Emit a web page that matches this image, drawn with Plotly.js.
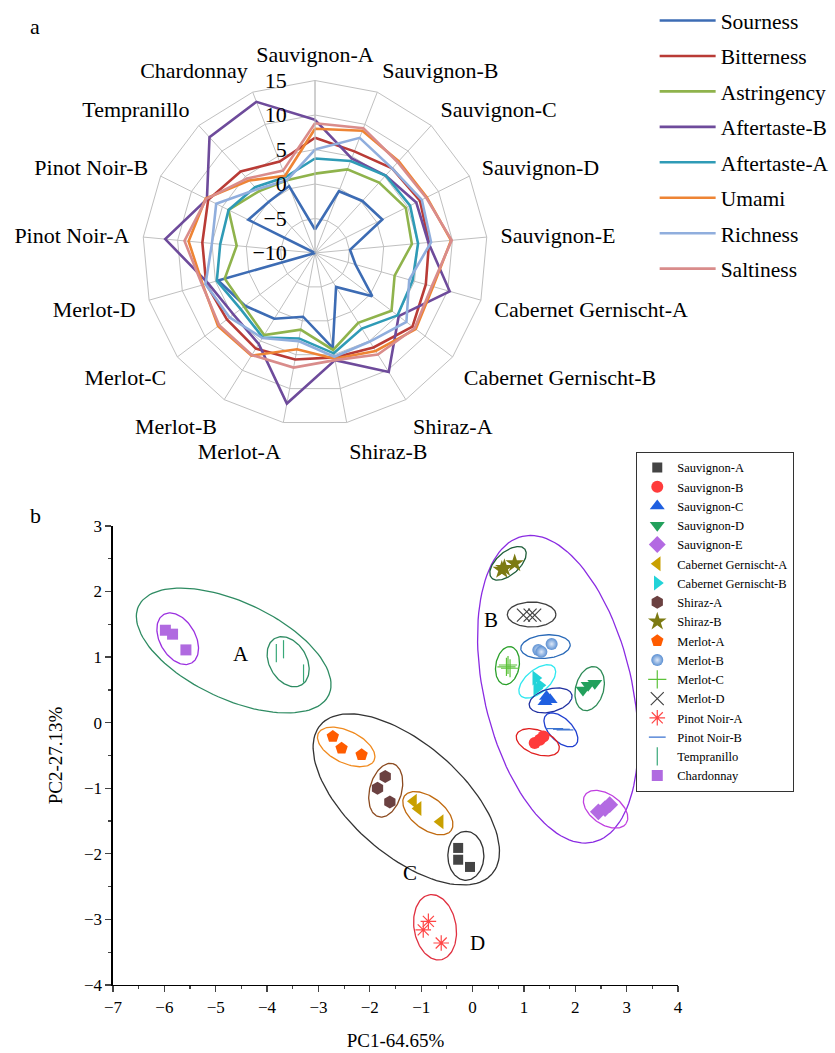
<!DOCTYPE html>
<html><head><meta charset="utf-8">
<script src="https://cdn.plot.ly/plotly-3.0.1.min.js"></script>
<style>html,body{margin:0;padding:0;background:#fff}#chart{width:835px;height:1053px}</style>
</head><body><div id="chart"></div>
<script>
// ---------- Radar data (panel a) ----------
const categories = ['Sauvignon-A','Sauvignon-B','Sauvignon-C','Sauvignon-D','Sauvignon-E','Cabernet Gernischt-A','Cabernet Gernischt-B','Shiraz-A','Shiraz-B','Merlot-A','Merlot-B','Merlot-C','Merlot-D','Pinot Noir-A','Pinot Noir-B','Tempranillo','Chardonnay'];
const sourness    = [-6.6,-0.4,0.2,0.9,-4.9,-3.9,0.4,-4.2,4.0,-0.6,1.2,2.7,4.6,-10,0.8,0.0,0.4];
const bitterness  = [6.7,5.8,6.6,7.0,6.6,6.7,7.7,6.1,5.4,5.7,6.3,6.0,6.4,6.4,7.3,6.0,4.2];
const astringency = [1.5,3.0,3.8,4.7,4.1,2.0,3.9,1.9,4.3,1.3,4.0,2.9,3.6,1.4,4.0,2.1,1.3];
const aftertasteB = [9.3,4.7,5.2,6.4,6.5,10.3,5.2,10.3,5.8,12.2,5.5,4.8,6.1,11.8,7.5,12.7,13.5];
const aftertasteA = [3.7,4.3,5.2,5.4,5.0,4.7,5.0,2.9,4.8,2.6,4.4,3.5,4.8,3.8,4.0,2.9,1.8];
const umami       = [8.0,9.0,8.0,8.1,9.8,7.8,8.3,6.7,5.6,4.2,7.5,7.6,6.9,8.4,7.7,4.2,2.0];
const richness    = [5.0,7.9,6.6,7.3,6.9,4.2,6.6,5.1,5.3,3.0,4.5,5.5,6.5,5.0,6.0,2.5,1.3];
const saltiness   = [8.8,9.4,7.8,8.0,9.9,7.6,8.1,7.3,5.8,6.9,7.4,7.4,7.0,9.0,7.6,4.6,2.8];
const tasteNames  = ['Sourness','Bitterness','Astringency','Aftertaste-B','Aftertaste-A','Umami','Richness','Saltiness'];
const tasteSeries = [sourness,bitterness,astringency,aftertasteB,aftertasteA,umami,richness,saltiness];
const tasteColors = ['#3d6cb4','#b93b36','#8fb34c','#6e4b9b','#2f9bb6','#ee8434','#90aedd','#d98c8b'];

// ---------- PCA data (panel b) ----------
const wines = ['Sauvignon-A','Sauvignon-B','Sauvignon-C','Sauvignon-D','Sauvignon-E','Cabernet Gernischt-A','Cabernet Gernischt-B','Shiraz-A','Shiraz-B','Merlot-A','Merlot-B','Merlot-C','Merlot-D','Pinot Noir-A','Pinot Noir-B','Tempranillo','Chardonnay'];
const pc1 = [
  [-0.28,-0.28,-0.05],[1.21,1.31,1.38],[1.44,1.51,1.41],[2.15,2.25,2.38],[2.45,2.58,2.67],
  [-1.15,-1.06,-0.63],[1.23,1.31,1.25],[-1.70,-1.85,-1.61],[0.57,0.62,0.82],[-2.72,-2.55,-2.16],
  [1.28,1.34,1.54],[0.66,0.69,0.73],[0.99,1.12,1.21],[-0.86,-0.96,-0.61],[1.60,1.73,1.80],
  [-3.82,-3.68,-3.29],[-5.98,-5.84,-5.58]];
const pc2 = [
  [-1.91,-2.09,-2.20],[-0.31,-0.26,-0.21],[0.40,0.35,0.32],[0.50,0.57,0.60],[-1.36,-1.31,-1.25],
  [-1.20,-1.31,-1.51],[0.68,0.57,0.52],[-0.82,-1.00,-1.21],[2.33,2.36,2.43],[-0.21,-0.39,-0.49],
  [1.11,1.08,1.20],[0.85,0.88,0.83],[1.64,1.64,1.64],[-3.03,-3.16,-3.36],[-0.09,-0.10,-0.11],
  [1.06,1.12,0.75],[1.41,1.35,1.11]];
const wineSymbols = ['square','circle','triangle-up','triangle-down','diamond','triangle-left','triangle-right','hexagon','star','pentagon','circle','cross-thin-open','x-thin-open','asterisk-open','line-ew-open','line-ns-open','square'];
const wineColors  = ['#444444','#ff3b3b','#1f5fe0','#22a05c','#b36ae2','#c9a000','#22d3d8','#6b4141','#7c7a12','#ff5c00','#5a8fd2','#5cc23a','#444444','#ff4646','#3a72d0','#38a878','#b06ae0'];
const wineSizes   = [10,12,13,13,13,13,13,13,14,13,12,13,13,13,12,13,11];

// confidence ellipses: centre (PC units), semi-axes (px), angle (deg)
const ellipses = [
  {cx:-4.65,cy:1.10,a:105,b:48.5,ang:-25,color:'#2e8b62'},
  {cx:-5.74,cy:1.28,a:28,b:17.8,ang:-60,color:'#9b30e0'},
  {cx:-3.59,cy:0.93,a:26.8,b:18.7,ang:-60,color:'#2e8b62'},
  {cx:-1.29,cy:-1.17,a:113.6,b:55.7,ang:-41,color:'#333333'},
  {cx:-2.46,cy:-0.37,a:31,b:16,ang:-26,color:'#f08a1e'},
  {cx:-1.69,cy:-1.03,a:27.5,b:16,ang:75,color:'#8b4a1f'},
  {cx:-0.87,cy:-1.38,a:29,b:16,ang:-37,color:'#c06a10'},
  {cx:-0.13,cy:-2.03,a:24.5,b:18,ang:90,color:'#333333'},
  {cx:-0.73,cy:-3.12,a:33,b:21,ang:100,color:'#e03040'},
  {cx:1.66,cy:0.51,a:157,b:74,ang:-77,color:'#8a2be2'},
  {cx:0.69,cy:2.43,a:22,b:11.4,ang:41,color:'#1f5e3a'},
  {cx:1.15,cy:1.65,a:24.3,b:12.5,ang:0,color:'#404040'},
  {cx:1.42,cy:1.16,a:24.8,b:11.7,ang:5,color:'#2a6ab8'},
  {cx:0.68,cy:0.87,a:19.2,b:11.7,ang:80,color:'#2aa02a'},
  {cx:1.26,cy:0.63,a:22,b:11.5,ang:40,color:'#30e8f0'},
  {cx:1.52,cy:0.34,a:22,b:11.5,ang:15,color:'#2030a0'},
  {cx:2.28,cy:0.52,a:22.5,b:14,ang:75,color:'#2e8b57'},
  {cx:1.72,cy:-0.11,a:21,b:11.5,ang:-45,color:'#2040d0'},
  {cx:1.27,cy:-0.30,a:22.5,b:12,ang:-20,color:'#e02020'},
  {cx:2.59,cy:-1.32,a:25,b:15,ang:-35,color:'#c040e0'}
];
const groupLabels = [{t:'A',x:-4.5,y:1.04},{t:'B',x:0.36,y:1.56},{t:'C',x:-1.22,y:-2.29},{t:'D',x:0.09,y:-3.36}];

// ---------- layout constants ----------
const W = 835, H = 1053;
const xDom = [0.1353,0.8120], yDom = [0.0646,0.5005];
const xRange = [-7,4], yRange = [-4,3];
const kx = (xDom[1]-xDom[0])*W/(xRange[1]-xRange[0]);
const ky = (yDom[1]-yDom[0])*H/(yRange[1]-yRange[0]);
const serif = 'Liberation Serif, Times New Roman, serif';

const traces = [];
tasteSeries.forEach((s,i)=>{
  traces.push({type:'scatterpolar', mode:'lines', name:tasteNames[i],
    r: s.concat([s[0]]), theta: categories.concat([categories[0]]),
    line:{color:tasteColors[i], width:2.6}, legendgroup:'g'+i, legend:'legend'});
});
ellipses.forEach(e=>{
  const xs=[], ys=[], phi=e.ang*Math.PI/180;
  for(let k=0;k<=120;k++){
    const t=2*Math.PI*k/120;
    const px=e.a*Math.cos(t)*Math.cos(phi)-e.b*Math.sin(t)*Math.sin(phi);
    const py=e.a*Math.cos(t)*Math.sin(phi)+e.b*Math.sin(t)*Math.cos(phi);
    xs.push(e.cx+px/kx); ys.push(e.cy+py/ky);
  }
  traces.push({type:'scatter', mode:'lines', x:xs, y:ys, line:{color:e.color,width:1.3},
    showlegend:false, hoverinfo:'skip', xaxis:'x', yaxis:'y'});
});
wines.forEach((w,i)=>{
  const thin = wineSymbols[i].indexOf('open')>=0;
  const m = {symbol:wineSymbols[i], size:wineSizes[i], color:wineColors[i],
    line: thin ? {color:wineColors[i], width:1.2} : {width:0}};
  if(w==='Merlot-B'){ m.gradient={type:'radial', color:'#dde8f8'}; }
  traces.push({type:'scatter', mode:'markers', name:w, x:pc1[i], y:pc2[i], marker:m,
    xaxis:'x', yaxis:'y', legend:'legend2'});
});

const layout = {
  width:W, height:H, margin:{l:0,r:0,t:0,b:0}, paper_bgcolor:'#fff', plot_bgcolor:'#fff',
  font:{family:serif, color:'#000'},
  polar:{
    domain:{x:[0.1707,0.5838], y:[0.5959,0.9236]},
    gridshape:'linear', bgcolor:'#fff',
    angularaxis:{direction:'clockwise', rotation:90, showline:true, linecolor:'#c0c0c0', linewidth:1,
      gridcolor:'#c0c0c0', ticks:'outside', ticklen:9, tickcolor:'rgba(0,0,0,0)',
      tickfont:{family:serif,size:22,color:'#000'}},
    radialaxis:{range:[-10,15], dtick:5, angle:90, tickangle:90, side:'counterclockwise', showline:true,
      linecolor:'#c0c0c0', gridcolor:'#c0c0c0', ticks:'outside', ticklen:20, tickcolor:'rgba(0,0,0,0)',
      tickfont:{family:serif,size:22,color:'#000'}}
  },
  xaxis:{domain:xDom, anchor:'y', range:xRange, dtick:1, ticks:'outside', ticklen:6, tickwidth:1.3,
    showline:true, linecolor:'#000', linewidth:1.5, showgrid:false, zeroline:false,
    minor:{dtick:0.5, ticks:'outside', ticklen:3, tickwidth:1.2, showgrid:false},
    tickfont:{family:serif,size:17,color:'#000'},
    title:{text:'PC1-64.65%', font:{family:serif,size:19,color:'#000'}, standoff:18}},
  yaxis:{domain:yDom, anchor:'x', range:yRange, dtick:1, ticks:'outside', ticklen:6, tickwidth:1.3,
    showline:true, linecolor:'#000', linewidth:1.5, showgrid:false, zeroline:false,
    minor:{dtick:0.5, ticks:'outside', ticklen:3, tickwidth:1.2, showgrid:false},
    tickfont:{family:serif,size:17,color:'#000'},
    title:{text:'PC2-27.13%', font:{family:serif,size:19,color:'#000'}, standoff:16}},
  legend:{x:0.784, y:1.0, xanchor:'left', yanchor:'top', font:{family:serif,size:21.5,color:'#000'},
    tracegroupgap:4.5, itemwidth:56, bgcolor:'rgba(0,0,0,0)'},
  legend2:{x:0.762, y:0.5708, xanchor:'left', yanchor:'top', font:{family:serif,size:12.5,color:'#000'},
    bordercolor:'#333', borderwidth:1, bgcolor:'#fff', tracegroupgap:0, itemwidth:30},
  annotations:[
    {text:'a', xref:'paper', yref:'paper', x:35/W, y:1-26/H, xanchor:'center', yanchor:'middle', showarrow:false, font:{family:serif,size:22}},
    {text:'b', xref:'paper', yref:'paper', x:35/W, y:1-515/H, xanchor:'center', yanchor:'middle', showarrow:false, font:{family:serif,size:22}}
  ].concat(groupLabels.map(g=>({text:g.t, xref:'x', yref:'y', x:g.x, y:g.y, showarrow:false,
    font:{family:serif,size:21,color:'#000'}})))
};
Plotly.newPlot('chart', traces, layout, {displayModeBar:false, staticPlot:true});
</script></body></html>
